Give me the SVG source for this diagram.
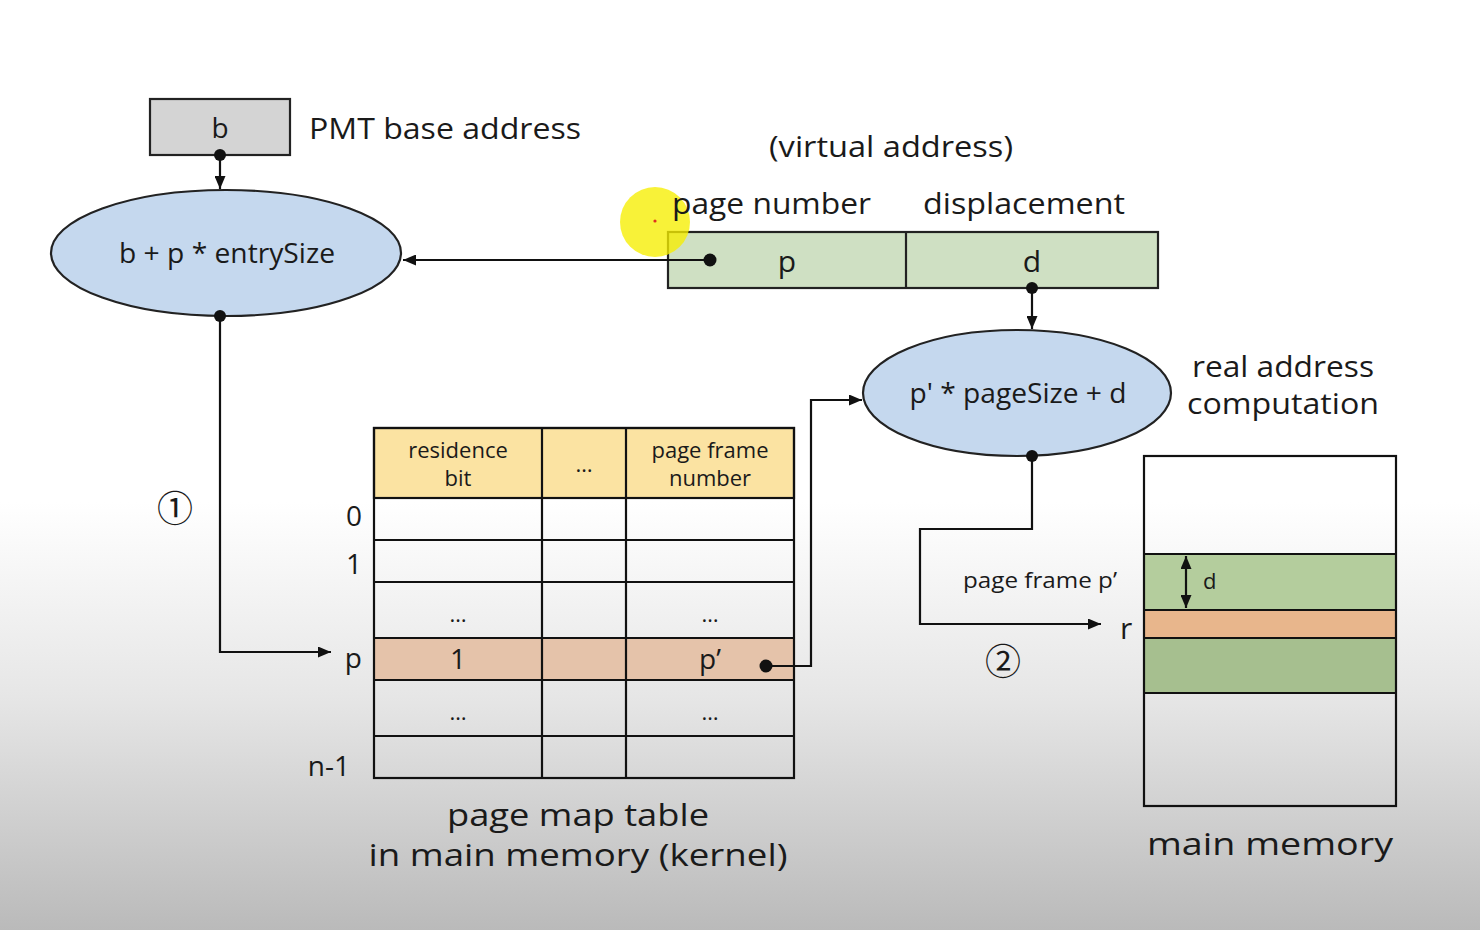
<svg xmlns="http://www.w3.org/2000/svg" width="1480" height="930" viewBox="0 0 1480 930">
<defs>
<linearGradient id="bg" x1="0" y1="0" x2="0" y2="1">
<stop offset="0" stop-color="#ffffff"/>
<stop offset="0.54" stop-color="#ffffff"/>
<stop offset="0.75" stop-color="#e6e6e6"/>
<stop offset="1" stop-color="#bababa"/>
</linearGradient>
<marker id="arr" viewBox="0 0 13 11" refX="13" refY="5.5" markerWidth="13" markerHeight="11" markerUnits="userSpaceOnUse" orient="auto-start-reverse">
<path d="M0,0 L13,5.5 L0,11 z" fill="#111"/>
</marker>
</defs>
<style>
text{font-family:"Open Sans","Noto Sans","Liberation Sans",sans-serif;fill:#1a1a1a}
.ln{fill:none;stroke:#111;stroke-width:2.2}
.bx{stroke:#222;stroke-width:2.2}
.dot{fill:#111}
.c{text-anchor:middle}
.t22{font-size:22px}
.t28{font-size:28px}
.t30{font-size:30px}
.t32{font-size:31px}
.circ{font-family:"Noto Sans CJK SC","Noto Sans",sans-serif;font-size:36px;text-anchor:middle}
</style>
<rect x="0" y="0" width="1480" height="930" fill="url(#bg)"/>

<g id="base">
<rect class="bx" x="150" y="99" width="140" height="56" fill="#d4d4d4"/>
<text class="c t28" x="220" y="138">b</text>
<text class="t30" x="309" y="139" textLength="272" lengthAdjust="spacingAndGlyphs">PMT base address</text>
</g>

<g id="pmt-calc">
<ellipse class="bx" cx="226" cy="253" rx="175" ry="63" fill="#c5d8ee"/>
<text class="c t28" x="227" y="263" textLength="216" lengthAdjust="spacingAndGlyphs">b + p * entrySize</text>
</g>

<g id="virtual-address">
<rect class="bx" x="668" y="232" width="490" height="56" fill="#cfe0c3"/>
<line class="bx" x1="906" y1="232" x2="906" y2="288"/>
<text class="c t30" x="787" y="272">p</text>
<text class="c t30" x="1032" y="272">d</text>
</g>

<g id="cursor-highlight">
<circle cx="655" cy="222" r="35" fill="#f6ee00" fill-opacity="0.78"/>
<circle cx="655" cy="221" r="1.6" fill="#e0301e"/>
</g>

<g id="virtual-address-labels">
<text class="c t30" x="891" y="157" textLength="244" lengthAdjust="spacingAndGlyphs">(virtual address)</text>
<text class="t30" x="672" y="214" textLength="199" lengthAdjust="spacingAndGlyphs">page number</text>
<text class="t30" x="923" y="214" textLength="202" lengthAdjust="spacingAndGlyphs">displacement</text>
</g>

<g id="real-calc">
<ellipse class="bx" cx="1017" cy="393" rx="154" ry="63" fill="#c5d8ee"/>
<text class="c t28" x="1018" y="403" textLength="217" lengthAdjust="spacingAndGlyphs">p' * pageSize + d</text>
<text class="c" font-size="30" x="1283" y="377" textLength="182" lengthAdjust="spacingAndGlyphs">real address</text>
<text class="c" font-size="30" x="1283" y="414" textLength="192" lengthAdjust="spacingAndGlyphs">computation</text>
</g>

<g id="page-map-table">
<rect class="bx" x="374" y="428" width="420" height="70" fill="#fbe3a2"/>
<rect x="374" y="638" width="420" height="42" fill="#e5c3aa"/>
<g class="ln">
<rect x="374" y="428" width="420" height="350"/>
<line x1="542" y1="428" x2="542" y2="778"/>
<line x1="626" y1="428" x2="626" y2="778"/>
<line x1="374" y1="498" x2="794" y2="498"/>
<line x1="374" y1="540" x2="794" y2="540"/>
<line x1="374" y1="582" x2="794" y2="582"/>
<line x1="374" y1="638" x2="794" y2="638"/>
<line x1="374" y1="680" x2="794" y2="680"/>
<line x1="374" y1="736" x2="794" y2="736"/>
</g>
<text class="c t22" x="458" y="458">residence</text>
<text class="c t22" x="458" y="486">bit</text>
<text class="c t22" x="584" y="472">…</text>
<text class="c t22" x="710" y="458">page frame</text>
<text class="c t22" x="710" y="486">number</text>
<text class="c t22" x="458" y="622">…</text>
<text class="c t22" x="710" y="622">…</text>
<text class="c t28" x="458" y="669">1</text>
<text class="c t28" x="710" y="669">p’</text>
<text class="c t22" x="458" y="720">…</text>
<text class="c t22" x="710" y="720">…</text>
<text class="t28" x="362" y="526" text-anchor="end">0</text>
<text class="t28" x="362" y="574" text-anchor="end">1</text>
<text class="t28" x="362" y="668" text-anchor="end">p</text>
<text class="t28" x="350" y="776" text-anchor="end">n-1</text>
<text class="c t32" x="578" y="826" textLength="262" lengthAdjust="spacingAndGlyphs">page map table</text>
<text class="c t32" x="578" y="866" textLength="419" lengthAdjust="spacingAndGlyphs">in main memory (kernel)</text>
</g>

<g id="main-memory">
<rect x="1144" y="554" width="252" height="56" fill="#b4cd9d"/>
<rect x="1144" y="610" width="252" height="28" fill="#e8b68c"/>
<rect x="1144" y="638" width="252" height="55" fill="#a6bf8f"/>
<g class="ln">
<rect x="1144" y="456" width="252" height="350"/>
<line x1="1144" y1="554" x2="1396" y2="554"/>
<line x1="1144" y1="610" x2="1396" y2="610"/>
<line x1="1144" y1="638" x2="1396" y2="638"/>
<line x1="1144" y1="693" x2="1396" y2="693"/>
</g>
<line class="ln" x1="1186" y1="556" x2="1186" y2="608" marker-start="url(#arr)" marker-end="url(#arr)"/>
<text class="t22" x="1203" y="589">d</text>
<text class="c t32" x="1270" y="855" textLength="246" lengthAdjust="spacingAndGlyphs">main  memory</text>
</g>

<g id="labels">
<text class="circ" x="175" y="522">①</text>
<text class="circ" x="1003" y="675">②</text>
<text class="t22" x="963" y="588" textLength="154" lengthAdjust="spacingAndGlyphs">page frame p’</text>
<text class="t30" x="1120" y="639">r</text>
</g>

<g id="connectors">
<line class="ln" x1="220" y1="155" x2="220" y2="189" marker-end="url(#arr)"/>
<circle class="dot" cx="220" cy="155" r="6"/>
<line class="ln" x1="710" y1="260" x2="403" y2="260" marker-end="url(#arr)"/>
<circle class="dot" cx="710" cy="260" r="6.5"/>
<polyline class="ln" points="220,316 220,652 331,652" marker-end="url(#arr)"/>
<circle class="dot" cx="220" cy="316" r="6"/>
<line class="ln" x1="1032" y1="288" x2="1032" y2="329" marker-end="url(#arr)"/>
<circle class="dot" cx="1032" cy="288" r="6"/>
<polyline class="ln" points="766,666 811,666 811,400 862,400" marker-end="url(#arr)"/>
<circle class="dot" cx="766" cy="666" r="6.5"/>
<polyline class="ln" points="1032,456 1032,529 920,529 920,624 1101,624" marker-end="url(#arr)"/>
<circle class="dot" cx="1032" cy="456" r="6"/>
</g>
</svg>
